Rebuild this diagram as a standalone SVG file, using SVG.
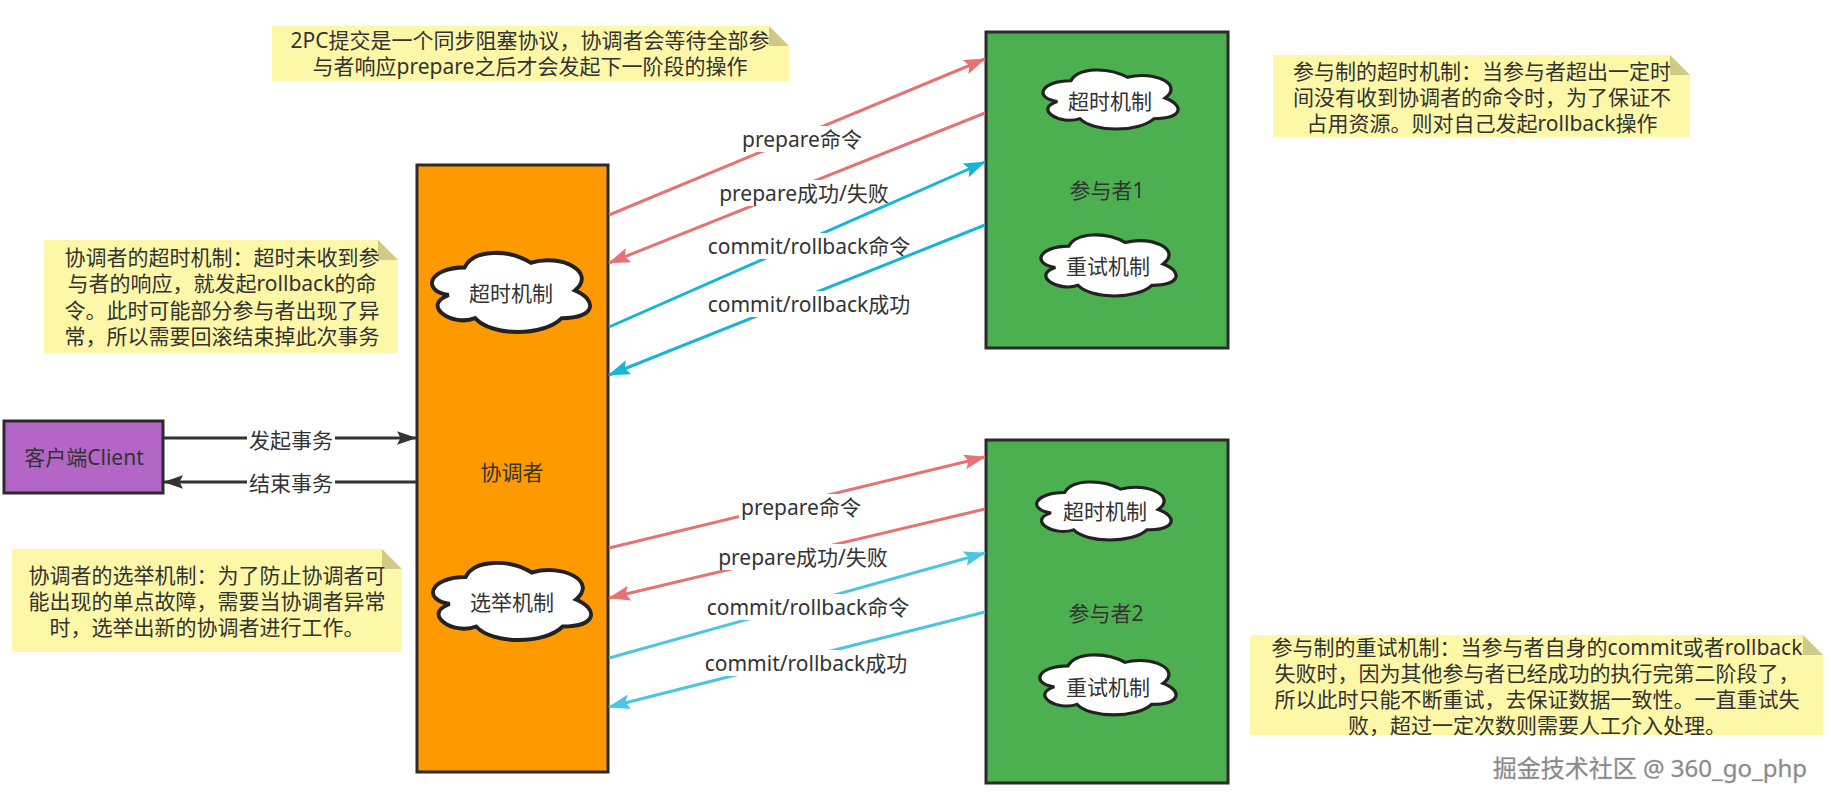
<svg xmlns="http://www.w3.org/2000/svg" xmlns:xlink="http://www.w3.org/1999/xlink" width="1832" height="806" viewBox="0 0 1832 806">
<style>
text{font-family:"Noto Sans","Noto Sans CJK SC",sans-serif;font-size:21px;fill:#333;text-anchor:middle;dominant-baseline:central}
.box{stroke:#2b2b2b;stroke-width:3}
.cloud{fill:#fff;stroke:#222;stroke-width:3.5;vector-effect:non-scaling-stroke}
.note{fill:#fcf8a8}
.fold{fill:#cfcb86}
.red{stroke:#e57373;stroke-width:3;fill:none;marker-end:url(#mRed)}
.cy1{stroke:#17b4d6;stroke-width:3;fill:none;marker-end:url(#mCy1)}
.cy2{stroke:#4cc6de;stroke-width:3;fill:none;marker-end:url(#mCy2)}
.blk{stroke:#333;stroke-width:3;fill:none;marker-end:url(#mBlk)}
.lbg{fill:#fff}
.wm{font-size:24px;fill:#8a8a8a;stroke:#e6e6e6;stroke-width:1;paint-order:stroke;text-anchor:end}
</style>
<defs>
<path id="cloudShape" d="M40,20 C8,20 0,40 25.6,44 C0,52.8 28.8,72 49.6,64 C64,80 112,80 128,64 C160,64 160,48 140,40 C160,24 128,8 100,16 C80,4 48,4 40,20 Z"/>
<marker id="mRed" markerUnits="userSpaceOnUse" viewBox="0 0 22 15" markerWidth="22" markerHeight="15" refX="21" refY="7.5" orient="auto"><path d="M0,0 L22,7.5 L0,15 L4,7.5 Z" fill="#e57373"/></marker>
<marker id="mCy1" markerUnits="userSpaceOnUse" viewBox="0 0 22 15" markerWidth="22" markerHeight="15" refX="21" refY="7.5" orient="auto"><path d="M0,0 L22,7.5 L0,15 L4,7.5 Z" fill="#17b4d6"/></marker>
<marker id="mCy2" markerUnits="userSpaceOnUse" viewBox="0 0 22 15" markerWidth="22" markerHeight="15" refX="21" refY="7.5" orient="auto"><path d="M0,0 L22,7.5 L0,15 L4,7.5 Z" fill="#4cc6de"/></marker>
<marker id="mBlk" markerUnits="userSpaceOnUse" viewBox="0 0 22 15" markerWidth="20" markerHeight="14" refX="21" refY="7.5" orient="auto"><path d="M0,0 L22,7.5 L0,15 L4,7.5 Z" fill="#333"/></marker>
</defs>
<rect width="1832" height="806" fill="#fff"/>

<g id="note-2pc">
<polygon class="note" points="272,26 769,26 789,46 789,81 272,81"/>
<polygon class="fold" points="769,26 789,46 769,46"/>
<text x="530" y="40">2PC提交是一个同步阻塞协议，协调者会等待全部参</text>
<text x="530" y="66">与者响应prepare之后才会发起下一阶段的操作</text>
</g>

<g id="note-coord-timeout">
<polygon class="note" points="44,240 378,240 398,260 398,353 44,353"/>
<polygon class="fold" points="378,240 398,260 378,260"/>
<text x="222" y="257">协调者的超时机制：超时未收到参</text>
<text x="222" y="283">与者的响应，就发起rollback的命</text>
<text x="222" y="310">令。此时可能部分参与者出现了异</text>
<text x="222" y="336">常，所以需要回滚结束掉此次事务</text>
</g>

<g id="note-coord-election">
<polygon class="note" points="12,549 382,549 402,569 402,652 12,652"/>
<polygon class="fold" points="382,549 402,569 382,569"/>
<text x="207" y="575">协调者的选举机制：为了防止协调者可</text>
<text x="207" y="601">能出现的单点故障，需要当协调者异常</text>
<text x="207" y="627">时，选举出新的协调者进行工作。</text>
</g>

<g id="note-part-timeout">
<polygon class="note" points="1273,55 1670,55 1690,75 1690,137 1273,137"/>
<polygon class="fold" points="1670,55 1690,75 1670,75"/>
<text x="1482" y="71">参与制的超时机制：当参与者超出一定时</text>
<text x="1482" y="97">间没有收到协调者的命令时，为了保证不</text>
<text x="1482" y="123">占用资源。则对自己发起rollback操作</text>
</g>

<g id="note-part-retry">
<polygon class="note" points="1250,635 1803,635 1823,655 1823,735 1250,735"/>
<polygon class="fold" points="1803,635 1823,655 1803,655"/>
<text x="1537" y="647">参与制的重试机制：当参与者自身的commit或者rollback</text>
<text x="1537" y="673">失败时，因为其他参与者已经成功的执行完第二阶段了，</text>
<text x="1537" y="699">所以此时只能不断重试，去保证数据一致性。一直重试失</text>
<text x="1537" y="725">败，超过一定次数则需要人工介入处理。</text>
</g>

<g id="client">
<rect class="box" x="4" y="421" width="159" height="72" fill="#b466c7"/>
<text x="84" y="457">客户端Client</text>
</g>

<g id="coordinator">
<rect class="box" x="417" y="165" width="191" height="607" fill="#ff9900"/>
<text x="512" y="472">协调者</text>
<use href="#cloudShape" class="cloud" transform="translate(420.5,244.3) scale(1.103,1.154)"/>
<text x="511" y="293">超时机制</text>
<use href="#cloudShape" class="cloud" transform="translate(421.5,554.5) scale(1.103,1.125)"/>
<text x="512" y="602">选举机制</text>
</g>

<g id="participant1">
<rect class="box" x="986" y="32" width="242" height="316" fill="#4caf50"/>
<text x="1107" y="190">参与者1</text>
<use href="#cloudShape" class="cloud" transform="translate(1033.2,63.5) scale(0.9425,0.8625)"/>
<text x="1110" y="101">超时机制</text>
<use href="#cloudShape" class="cloud" transform="translate(1031.2,228.3) scale(0.9425,0.891)"/>
<text x="1108" y="266">重试机制</text>
</g>

<g id="participant2">
<rect class="box" x="986" y="440" width="242" height="343" fill="#4caf50"/>
<text x="1106" y="613">参与者2</text>
<use href="#cloudShape" class="cloud" transform="translate(1027,475.6) scale(0.9375,0.8475)"/>
<text x="1105" y="511">超时机制</text>
<use href="#cloudShape" class="cloud" transform="translate(1030,648.4) scale(0.95,0.875)"/>
<text x="1108" y="687">重试机制</text>
</g>

<g id="connectors">
<line class="blk" x1="164" y1="438" x2="416" y2="438"/>
<rect class="lbg" x="247" y="426" width="88" height="26"/>
<text x="291" y="440">发起事务</text>
<line class="blk" x1="416" y1="482" x2="164" y2="482"/>
<rect class="lbg" x="247" y="470" width="88" height="26"/>
<text x="291" y="483">结束事务</text>

<line class="red" x1="609" y1="215" x2="985" y2="59"/>
<rect class="lbg" x="740" y="126" width="124" height="26"/>
<text x="802" y="139">prepare命令</text>
<line class="red" x1="985" y1="113" x2="609" y2="263"/>
<rect class="lbg" x="717" y="180" width="174" height="26"/>
<text x="804" y="193">prepare成功/失败</text>
<line class="cy1" x1="609" y1="327" x2="985" y2="162"/>
<rect class="lbg" x="706" y="233" width="206" height="26"/>
<text x="809" y="246">commit/rollback命令</text>
<line class="cy1" x1="985" y1="225" x2="609" y2="375"/>
<rect class="lbg" x="706" y="291" width="206" height="26"/>
<text x="809" y="304">commit/rollback成功</text>

<line class="red" x1="609" y1="548" x2="985" y2="457"/>
<rect class="lbg" x="739" y="494" width="124" height="26"/>
<text x="801" y="507">prepare命令</text>
<line class="red" x1="985" y1="509" x2="609" y2="598"/>
<rect class="lbg" x="716" y="544" width="174" height="26"/>
<text x="803" y="557">prepare成功/失败</text>
<line class="cy2" x1="609" y1="658" x2="985" y2="553"/>
<rect class="lbg" x="705" y="594" width="206" height="26"/>
<text x="808" y="607">commit/rollback命令</text>
<line class="cy2" x1="985" y1="612" x2="609" y2="707"/>
<rect class="lbg" x="703" y="650" width="206" height="26"/>
<text x="806" y="663">commit/rollback成功</text>
</g>

<text class="wm" x="1807" y="767">掘金技术社区 @ 360_go_php</text>
</svg>
